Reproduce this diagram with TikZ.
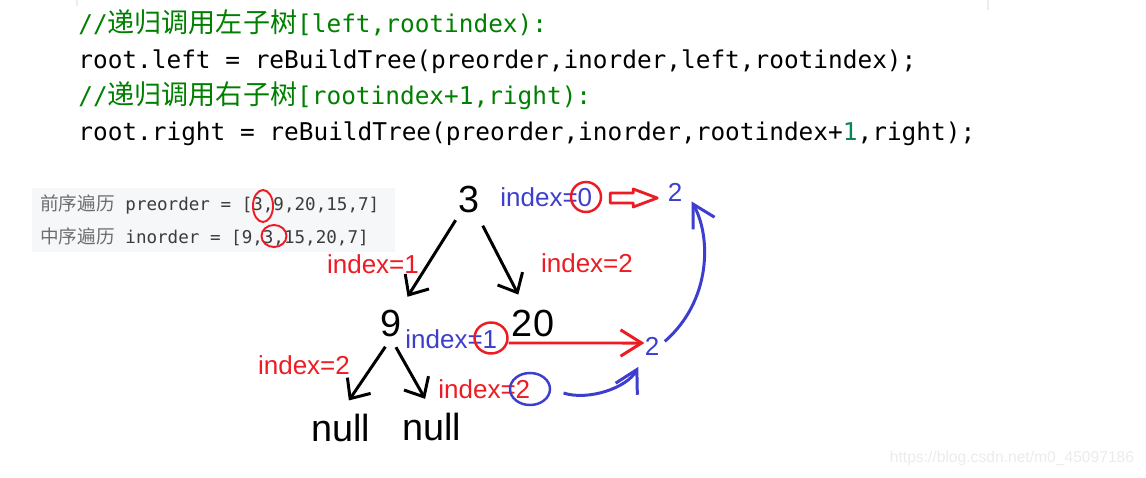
\documentclass[tikz,border=0pt]{standalone}
\usepackage{fontspec}
\setmainfont{Liberation Sans}
\setmonofont{DejaVu Sans Mono}
\newfontfamily\cjk{Noto Sans CJK SC}
\usetikzlibrary{arrows.meta,shapes.geometric}
\definecolor{cmtgreen}{RGB}{0,128,0}
\definecolor{numteal}{RGB}{9,134,88}
\definecolor{penblue}{RGB}{62,62,206}
\definecolor{penred}{RGB}{237,28,36}
\definecolor{boxgray}{RGB}{246,247,248}
\definecolor{zhgray}{RGB}{110,110,110}
\definecolor{codegray}{RGB}{60,60,60}

\begin{document}
\begin{tikzpicture}[x=0.02cm, y=-0.02cm,
	codeline/.style={anchor=base west, inner sep=0pt, font=\ttfamily\fontsize{13.9}{16}\selectfont},
	arrayline/.style={anchor=base west, inner sep=0pt, text=codegray, font=\ttfamily\fontsize{10}{12}\selectfont},
	bignum/.style={inner sep=1pt, font=\fontsize{21.5}{24}\selectfont},
	bluelbl/.style={inner sep=0pt, text=penblue, font=\fontsize{14.8}{17}\selectfont},
	redlbl/.style={inner sep=0pt, text=penred, font=\fontsize{14.8}{17}\selectfont},
	ring/.style={ellipse, draw=#1, line width=1.4pt, inner sep=0pt},
	blackarrow/.style={line width=1.7pt, -{Straight Barb[length=9pt,width=16pt]}},
	redarrow/.style={penred, line width=1.7pt, -{Straight Barb[length=12pt,width=15pt]}},
	bluearrow/.style={penblue, line width=1.7pt, -{Straight Barb[length=12.5pt,width=14pt]}}]
	\fill[white] (0,0) rectangle (1146,477);
	\useasboundingbox (0,0) rectangle (1146,477);
	
	% Code lines
	\draw[gray!15, line width=0.6pt] (77,0) -- (77,6);
	\draw[gray!15, line width=0.6pt] (988,0) -- (988,10);
	\node[codeline, text=cmtgreen] (cmtleft) at (78,32) {//{\cjk\fontsize{15.4}{16}\selectfont 递归调用左子树}[left,rootindex):};
	\node[codeline] (callleft) at (78,68) {root.left = reBuildTree(preorder,inorder,left,rootindex);};
	\node[codeline, text=cmtgreen] (cmtright) at (78,104) {//{\cjk\fontsize{15.4}{16}\selectfont 递归调用右子树}[rootindex+1,right):};
	\node[codeline] (callright) at (78,140) {root.right = reBuildTree(preorder,inorder,rootindex+{\color{numteal}1},right);};
	
	% Traversal arrays
	\fill[boxgray] (32,188) rectangle (395,252);
	\node[arrayline] (preline) at (40,210) {{\cjk\fontsize{10.6}{12}\selectfont\color{zhgray}前序遍历} preorder = [3,9,20,15,7]};
	\node[arrayline] (inline) at (40,243) {{\cjk\fontsize{10.6}{12}\selectfont\color{zhgray}中序遍历} inorder = [9,3,15,20,7]};
	\node[ring=penred, line width=1.1pt, minimum width=0.4cm, minimum height=0.64cm] (preroot) at (263,206) {};
	\node[ring=penred, line width=1.1pt, minimum width=0.5cm, minimum height=0.44cm] (inroot) at (274,236) {};
	
	% Tree
	\node[bignum] (three) at (469,199) {3};
	\node[bignum] (nine) at (391,323) {9};
	\node[bignum] (twenty) at (533,323) {20};
	\node[bignum] (nullleft) at (341,428) {null};
	\node[bignum] (nullright) at (432,427) {null};
	\node[redlbl] (lblone) at (373,264) {index=1};
	\node[redlbl] (lbltwo) at (587,263) {index=2};
	\node[redlbl] (lblleft) at (304,365) {index=2};
	
	\draw[blackarrow, shorten <=0.5cm, shorten >=0.62cm] (three.center) -- (nine.center);
	\draw[blackarrow, shorten <=0.6cm, shorten >=0.64cm] (three.center) -- (twenty.center);
	\draw[blackarrow, shorten <=0.2cm, shorten >=0.28cm] (nine.south) -- (nullleft.north);
	\draw[blackarrow, shorten <=0.2cm, shorten >=0.28cm] (nine.south) -- (nullright.north);
	
	% Index notes
	\node[bluelbl, anchor=west] (idxzero) at (500,197) {index=0};
	\node[ring=penred, minimum size=0.6cm] (zeroring) at (586,197) {};
	\node[bluelbl] (twotop) at (675,192) {2};
	\node[bluelbl, anchor=west] (idxone) at (405,339) {index=1};
	\node[ring=penred, minimum width=0.66cm, minimum height=0.62cm] (onering) at (491,338) {};
	\node[bluelbl] (twomid) at (652,346) {2};
	\node[redlbl, anchor=west] (idxtwo) at (438,389) {index=2};
	\node[ring=penblue, minimum width=0.8cm, minimum height=0.64cm] (tworing) at (530,389) {};
	
	\draw[penred, line width=1.6pt, line join=round] ([xshift=0.16cm]zeroring.east) -- ++(0,-4) -- ++(23,0) -- ++(0,-4) -- ++(24,9) -- ++(-24,9) -- ++(0,-4) -- ++(-23,0) -- cycle;
	\draw[redarrow] ([yshift=-0.1cm]onering.east) -- ([yshift=0.06cm]twomid.west);
	\draw[bluearrow, shorten <=0.26cm, shorten >=0.26cm] (tworing.east) .. controls (588,401) and (627,388) .. (twomid.south west);
	\draw[bluearrow, shorten <=0.14cm] (twomid.east) .. controls (712,300) and (711,236) .. ([xshift=0.18cm]twotop.south east);
	
	% Watermark
	\node[text=gray!15, font=\fontsize{8.9}{10}\selectfont] (mark) at (1012,458) {https://blog.csdn.net/m0\_45097186};
\end{tikzpicture}
\end{document}
